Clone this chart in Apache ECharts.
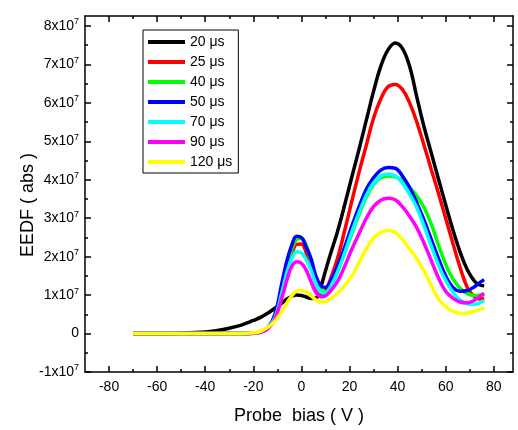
<!DOCTYPE html>
<html>
<head>
<meta charset="utf-8">
<script src="https://cdn.jsdelivr.net/npm/echarts@6/dist/echarts.min.js"></script>
<style>html,body{margin:0;padding:0;background:#fff;}#c{width:518px;height:430px;}</style>
</head>
<body>
<div id="c"></div>
<script>
// Probe bias (V)
var bias = [-70,-60,-50,-40,-35,-30,-25,-20,-17,-14,-11,-8,-6,-4,-2,0,2,4,6,8,10,12,15,18,21,24,27,30,33,36,39,42,45,48,51,54,57,60,63,66,69,72,74,76];
// EEDF in units of 1x10^7
var s20  = [0,0,0.01,0.04,0.08,0.14,0.22,0.34,0.42,0.53,0.66,0.8,0.9,0.97,1.0,0.99,0.95,0.91,0.92,1.2,1.63,2.05,2.65,3.35,4.08,4.8,5.55,6.3,6.95,7.38,7.56,7.42,6.95,6.15,5.38,4.7,4.02,3.35,2.7,2.12,1.66,1.36,1.27,1.24];
var s25  = [0,0,0,0,0,0,0,0.01,0.04,0.15,0.45,1.15,1.65,2.05,2.32,2.33,2.1,1.7,1.3,1.03,1.1,1.4,1.95,2.68,3.45,4.2,4.9,5.6,6.1,6.42,6.48,6.35,6.0,5.5,4.9,4.27,3.65,3.0,2.35,1.72,1.2,0.95,0.9,0.92];
var s40  = [0,0,0,0,0,0,0,0.01,0.04,0.15,0.45,1.25,1.8,2.2,2.45,2.48,2.3,1.9,1.45,1.15,1.08,1.2,1.6,2.1,2.6,3.1,3.55,3.88,4.05,4.1,4.08,3.98,3.8,3.58,3.28,2.85,2.3,1.8,1.42,1.18,1.04,0.99,1.0,1.03];
var s50  = [0,0,0,0,0,0,0,0.01,0.05,0.14,0.5,1.35,1.9,2.3,2.53,2.5,2.25,1.95,1.5,1.25,1.2,1.35,1.75,2.25,2.8,3.3,3.75,4.05,4.25,4.32,4.3,4.1,3.8,3.4,2.95,2.45,1.95,1.5,1.2,1.1,1.12,1.22,1.32,1.4];
var s70  = [0,0,0,0,0,0,0,0.01,0.04,0.15,0.42,1.1,1.6,1.95,2.13,2.1,1.92,1.65,1.3,1.08,1.05,1.2,1.6,2.1,2.65,3.15,3.6,3.92,4.1,4.15,4.1,3.92,3.62,3.28,2.8,2.28,1.78,1.38,1.08,0.87,0.77,0.76,0.8,0.86];
var s90  = [0,0,0,0,0,0,0,0.01,0.03,0.12,0.38,0.95,1.4,1.75,1.87,1.83,1.65,1.35,1.07,0.96,0.98,1.1,1.35,1.75,2.2,2.6,3.0,3.3,3.47,3.52,3.48,3.3,3.05,2.75,2.35,1.9,1.45,1.1,0.92,0.82,0.8,0.87,0.96,1.04];
var s120 = [0,0,0,0,0,0,0,0.02,0.06,0.16,0.33,0.58,0.8,0.98,1.1,1.12,1.08,0.98,0.88,0.82,0.83,0.9,1.05,1.25,1.5,1.85,2.2,2.48,2.63,2.69,2.63,2.45,2.2,1.95,1.62,1.25,0.9,0.7,0.58,0.52,0.53,0.58,0.62,0.67];
var seriesNames = ['20 μs','25 μs','40 μs','50 μs','70 μs','90 μs','120 μs'];
var seriesColors = ['#000000','#ff0000','#00ff00','#0000ff','#00ffff','#ff00ff','#ffff00'];
var seriesValues = [s20, s25, s40, s50, s70, s90, s120];
// Tick values
var xMajor = [-80,-60,-40,-20,0,20,40,60,80];
var xMinor = [-70,-50,-30,-10,10,30,50,70];
var yMajor = [-1,0,1,2,3,4,5,6,7,8];
var yMinor = [-0.5,0.5,1.5,2.5,3.5,4.5,5.5,6.5,7.5];

var FONT = 'Liberation Sans, Arial, sans-serif';
var chart = echarts.init(document.getElementById('c'), null, {renderer: 'canvas'});

function xAx(pos, ticks, len, showLine, showLabel) {
  return {
    type: 'value', position: pos, min: -90, max: 88,
    axisLine: {show: showLine, onZero: false, lineStyle: {color: '#000', width: 1.5}},
    axisTick: {show: true, inside: true, length: len, customValues: ticks, lineStyle: {color: '#000', width: 1.5}},
    axisLabel: {show: showLabel, customValues: ticks, color: '#000', fontSize: 14, fontFamily: FONT, margin: 8},
    splitLine: {show: false}
  };
}
function yAx(pos, ticks, len, showLine, showLabel) {
  return {
    type: 'value', position: pos, min: -1, max: 8.26,
    axisLine: {show: showLine, onZero: false, lineStyle: {color: '#000', width: 1.5}},
    axisTick: {show: true, inside: true, length: len, customValues: ticks, lineStyle: {color: '#000', width: 1.5}},
    axisLabel: {
      show: showLabel, customValues: ticks, margin: 6,
      formatter: function (v) { return v === 0 ? '{m|0}' : '{m|' + v + 'x10}{s|7}'; },
      rich: {
        m: {fontSize: 14, fontFamily: FONT, color: '#000'},
        s: {fontSize: 9, fontFamily: FONT, color: '#000', verticalAlign: 'top', padding: [0, 0, 8, 0]}
      }
    },
    splitLine: {show: false}
  };
}

var xAxes = [xAx('bottom', xMajor, 6, true, true), xAx('bottom', xMinor, 3, false, false), xAx('top', xMajor, 6, true, false), xAx('top', xMinor, 3, false, false)];
xAxes[0].name = 'Probe  bias ( V )';
xAxes[0].nameLocation = 'middle';
xAxes[0].nameGap = 35;
xAxes[0].nameTextStyle = {fontSize: 18, fontFamily: FONT, color: '#000'};
var yAxes = [yAx('left', yMajor, 6, true, true), yAx('left', yMinor, 3, false, false), yAx('right', yMajor, 6, true, false), yAx('right', yMinor, 3, false, false)];
yAxes[0].name = 'EEDF ( abs )';
yAxes[0].nameLocation = 'middle';
yAxes[0].nameGap = 48;
yAxes[0].nameMoveOverlap = false;
yAxes[0].nameTextStyle = {fontSize: 18, fontFamily: FONT, color: '#000', padding: [0, 22, 0, 0]};

var series = seriesNames.map(function (n, k) {
  return {
    name: n, type: 'line', xAxisIndex: 0, yAxisIndex: 0,
    showSymbol: false, smooth: 0.4,
    color: seriesColors[k],
    lineStyle: {width: 3.5, color: seriesColors[k]},
    data: bias.map(function (v, i) { return [v, seriesValues[k][i]]; }),
    z: 2 + k
  };
});

chart.setOption({
  animation: false,
  backgroundColor: '#fff',
  grid: {left: 85, right: 5, top: 16, bottom: 56},
  xAxis: xAxes,
  yAxis: yAxes,
  legend: {
    data: seriesNames, orient: 'vertical', left: 143, top: 30,
    icon: 'rect', itemWidth: 37, itemHeight: 4, itemGap: 4,
    borderColor: '#000', borderWidth: 1, padding: [4, 6, 3, 5],
    textStyle: {fontSize: 14, lineHeight: 16, fontFamily: FONT, color: '#000'}
  },
  series: series
});
</script>
</body>
</html>
